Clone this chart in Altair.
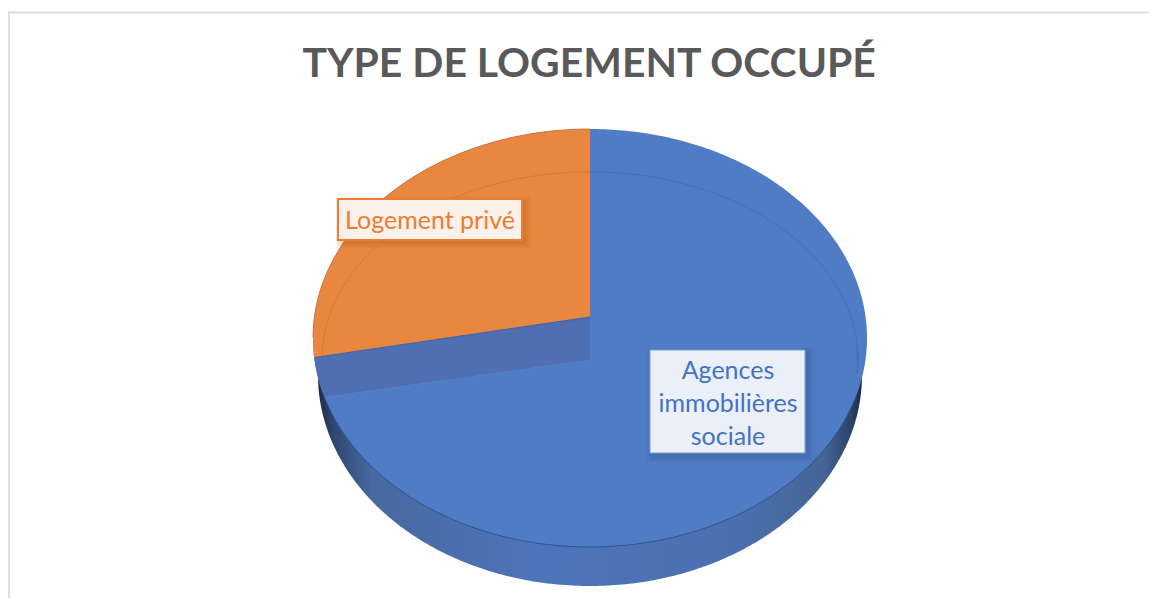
import numpy as np
import pandas as pd
import altair as alt

# ---- values ----
categories = ["Agences immobilières sociale", "Logement privé"]
shares = [73.5, 26.5]
title_text = "TYPE DE LOGEMENT OCCUPÉ"
label_lines_blue = ["Agences", "immobilières", "sociale"]
label_lines_orange = ["Logement privé"]

# ---- page geometry (pie drawn in ellipse units through the scales) ----
W, H = 1141, 590
CX, CY, RX, RY = 590.0, 338.0, 277.0, 209.0
CORNER_V = 0.10          # raised apex of the orange slice
INNER_V, INNER_RX, INNER_RY = -0.105, 0.9675, 0.90
WALL_V, WALL_RX, WALL_RY = -0.177, 0.982, 1.0096
WALL_END_DEG = 16.5

x_scale = alt.Scale(domain=[(8 - CX) / RX, (8 + W - CX) / RX], range=[0, W], nice=False, zero=False)
y_scale = alt.Scale(domain=[(CY - 8 - H) / RY, (CY - 8) / RY], range=[H, 0], nice=False, zero=False)
X = alt.X("x:Q", scale=x_scale, axis=None)
Y = alt.Y("y:Q", scale=y_scale, axis=None)

BLUE, ORANGE = "#4f7cc5", "#e98640"

t = np.linspace(0, np.pi, 241)
ux = -np.cos(t)
upper = lambda u: np.sqrt(np.clip(1 - u ** 2, 0, 1))

face = pd.DataFrame({"x": ux, "y": upper(ux), "y2": -upper(ux)})

wx = WALL_RX * ux
wall = pd.DataFrame({"x": wx, "y": WALL_V + WALL_RY * upper(ux), "y2": WALL_V - WALL_RY * upper(ux)})

sweep = np.deg2rad(shares[1] / sum(shares) * 360)
end_u, end_v = -np.sin(sweep), np.cos(sweep)
def edge_line(u, u0, v0, u1, v1):
    return v0 + (u - u0) * (v1 - v0) / (u1 - u0)

ou = np.unique(np.concatenate([ux[ux <= 0], [end_u, 0.0]]))
obot = np.where(ou < end_u, -upper(ou), edge_line(ou, end_u, end_v, 0.0, CORNER_V))
orange = pd.DataFrame({"x": ou, "y": upper(ou), "y2": obot})
orange_edge = pd.DataFrame({"x": [end_u, 0.0], "y": [end_v, CORNER_V]})
orange_rim = orange[["x", "y"]]

low_u, low_v = -np.cos(np.deg2rad(WALL_END_DEG)), -np.sin(np.deg2rad(WALL_END_DEG))
iu = np.unique(np.concatenate([np.linspace(end_u, low_u, 20), np.linspace(low_u, 0, 20)]))
itop = edge_line(iu, end_u, end_v, 0.0, CORNER_V)
ibot = np.where(iu < low_u, -upper(iu), edge_line(iu, low_u, low_v, 0.0, INNER_V))
inner_wall = pd.DataFrame({"x": iu, "y": itop, "y2": ibot})
inner_edge = pd.DataFrame({"x": [low_u, 0.0], "y": [low_v, INNER_V]})

def rim(a0, a1):
    a = np.deg2rad(np.linspace(a0, a1, 120))
    return pd.DataFrame({"x": INNER_RX * np.sin(a), "y": INNER_V + INNER_RY * np.cos(a), "n": range(120)})

rim_orange = rim(-88.5, 0)
rim_blue = rim(0, 94)
bottom = t[(t > np.deg2rad(15)) & (t < np.deg2rad(165))]
face_edge = pd.DataFrame({"x": -np.cos(bottom), "y": -np.sin(bottom)})

def area(df, **kw):
    return alt.Chart(df).mark_area(**kw).encode(x=X, y=Y, y2=alt.Y2("y2:Q"))

def line(df, color, width, opacity=1.0):
    return alt.Chart(df).mark_line(color=color, strokeWidth=width, opacity=opacity).encode(x=X, y=Y)

wall_fill = alt.Gradient(
    gradient="linear", x1=0, x2=1, y1=0, y2=0,
    stops=[
        alt.GradientStop(offset=0.0, color="#1d2c47"),
        alt.GradientStop(offset=0.03, color="#2f4872"),
        alt.GradientStop(offset=0.10, color="#48689f"),
        alt.GradientStop(offset=0.40, color="#4d75bb"),
        alt.GradientStop(offset=0.78, color="#4b6fae"),
        alt.GradientStop(offset=0.93, color="#456596"),
        alt.GradientStop(offset=0.98, color="#2c436b"),
        alt.GradientStop(offset=1.0, color="#1b2a45"),
    ],
)

one = pd.DataFrame({"k": [0]})

def box(x0, x1, y0, y1, **kw):
    return alt.Chart(one).mark_rect(**kw).encode(
        x=alt.value(x0 - 8), x2=alt.value(x1 - 8), y=alt.value(y0 - 8), y2=alt.value(y1 - 8)
    )

def shadow(x0, x1, y0, y1, color):
    return alt.layer(*[
        box(x0 - g + 3, x1 + g + 3, y0 - g + 3, y1 + g + 3, fill=color, opacity=0.10) for g in (5, 3, 1)
    ])

def labels(lines, x, y0, step, color):
    layers = []
    for i, s in enumerate(lines):
        layers.append(
            alt.Chart(pd.DataFrame({"t": [s]})).mark_text(
                font="Lato", fontSize=25, color=color, align="center", baseline="alphabetic"
            ).encode(text="t:N", x=alt.value(x - 8), y=alt.value(y0 - 8 + step * i))
        )
    return alt.layer(*layers)

frame = alt.layer(
    alt.Chart(one).mark_rule(color="#dcdcdc", strokeWidth=2).encode(
        x=alt.value(0.5), x2=alt.value(W), y=alt.value(4.5)),
    alt.Chart(one).mark_rule(color="#dcdcdc", strokeWidth=2).encode(
        x=alt.value(1), y=alt.value(4), y2=alt.value(H)),
)

chart = alt.layer(
    frame,
    area(wall, color=wall_fill),
    area(face, color=BLUE),
    area(inner_wall, color="#4f6fb2"),
    area(orange, color=ORANGE),
    line(rim_orange, "#d97a36", 1),
    line(rim_blue, "#4670b5", 1),
    line(orange_rim, "#c9702f", 1, 0.8),
    line(orange_edge, "#3f67ad", 1.2),
    line(inner_edge, "#5a82c8", 1, 0.8),
    line(face_edge, "#2c4f8c", 1, 0.9),
    shadow(649, 805, 350, 454, "#2f4f85"),
    box(650, 805, 350, 453, fill="#ebf0f8", stroke="#7f9fd6", strokeWidth=1),
    labels(label_lines_blue, 728, 379, 33, "#4472c4"),
    shadow(338, 522, 199, 240, "#a8551c"),
    box(338, 522, 199, 240, fill="#fbf1ea", stroke="#ed7d31", strokeWidth=2),
    labels(label_lines_orange, 430, 229, 0, "#ed7d31"),
).properties(
    width=W,
    height=H,
    padding=0,
    autosize=alt.AutoSizeParams(type="none"),
    title=alt.TitleParams(
        text=title_text, font="Lato", fontSize=40.9, fontWeight="bold", color="#595959",
        anchor="start", offset=0, dy=110, dx=295, baseline="alphabetic",
    ),
).configure_view(stroke=None)

chart.save("out.html", embed_options={"renderer": "svg", "actions": False})
